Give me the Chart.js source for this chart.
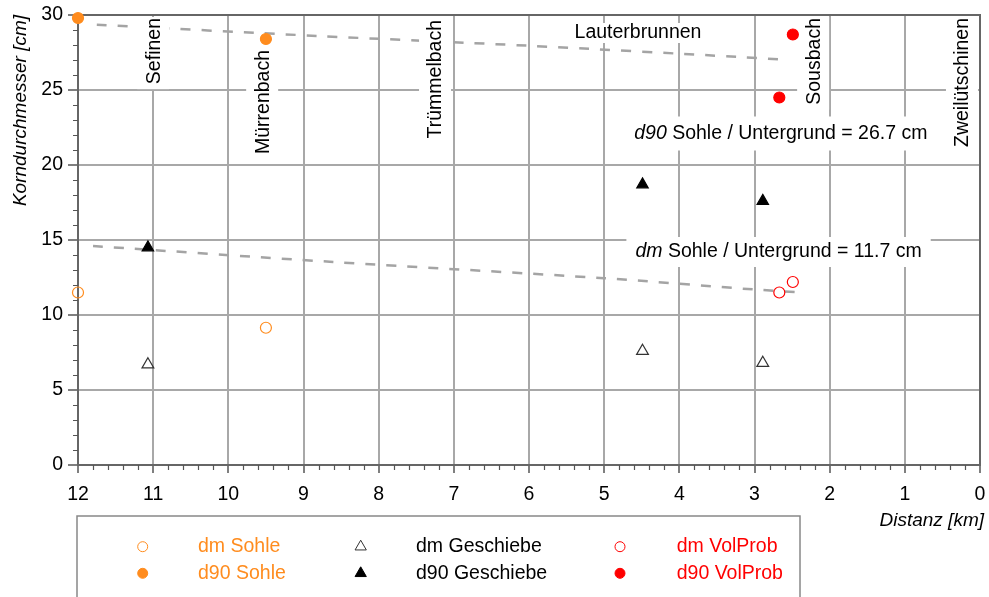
<!DOCTYPE html>
<html>
<head>
<meta charset="utf-8">
<script src="https://cdn.jsdelivr.net/npm/chart.js@4.4.0/dist/chart.umd.min.js"></script>
<style>
  html, body { margin: 0; padding: 0; background: #fff; }
  #wrap { width: 989px; height: 597px; position: relative; }
</style>
</head>
<body>
<div id="wrap"><canvas id="c" width="989" height="597"></canvas></div>
<script>
// Distance along the valley [km] and grain diameters [cm]
const dmSohleX = [12.0, 9.5];
const dmSohleY = [11.5, 9.15];
const d90SohleX = [12.0, 9.5];
const d90SohleY = [29.8, 28.4];
const dmGeschiebeX = [11.07, 4.49, 2.89];
const dmGeschiebeY = [6.7, 7.6, 6.8];
const d90GeschiebeX = [11.07, 4.49, 2.89];
const d90GeschiebeY = [14.5, 18.7, 17.6];
const dmVolProbX = [2.67, 2.49];
const dmVolProbY = [11.5, 12.2];
const d90VolProbX = [2.49, 2.67];
const d90VolProbY = [28.7, 24.5];

// Trend of the subsurface grain size along the reach
const d90TrendX = [11.75, 8.8, 6.0, 3.2, 2.55];
const d90TrendY = [29.35, 28.6, 27.95, 27.2, 27.0];
const dmTrendX = [11.8, 8.65, 5.0, 3.0, 2.35];
const dmTrendY = [14.6, 13.55, 12.45, 11.7, 11.5];

// Tributaries and their position [km]
const stationNames = ['Sefinen', 'Mürrenbach', 'Trümmelbach', 'Lauterbrunnen', 'Sousbach', 'Zweilütschinen'];
const stationKm = [11.0, 9.55, 7.25, 4.55, 2.22, 0.24];

// Subsurface summary values [cm]
const d90Untergrund = 26.7;
const dmUntergrund = 11.7;

// Axis ticks
const xTickValues = [12, 11, 10, 9, 8, 7, 6, 5, 4, 3, 2, 1, 0];
const yTickValues = [0, 5, 10, 15, 20, 25, 30];

const ORANGE = '#ff8c1e';
const RED = '#ff0000';
const BLACK = '#000000';
const FONT = '"Liberation Sans", Arial, Helvetica, sans-serif';

const pts = (xs, ys) => xs.map((x, i) => ({ x: x, y: ys[i] }));

// Tributary label layout: rotated or horizontal, value at the top end of the text
const stationLayout = [
  { rot: true, top: 29.8 },
  { rot: true, top: 27.67 },
  { rot: true, top: 29.67 },
  { rot: false, mid: 28.8 },
  { rot: true, top: 29.8 },
  { rot: true, top: 29.8 }
];

function textBox(ctx, parts, size) {
  let w = 0;
  parts.forEach(p => {
    ctx.font = (p.italic ? 'italic ' : '') + size + 'px ' + FONT;
    w += ctx.measureText(p.t).width;
  });
  return w;
}

function drawRich(ctx, parts, cx, cy, size, padX, halfH) {
  const w = textBox(ctx, parts, size);
  ctx.fillStyle = '#fff';
  ctx.fillRect(cx - w / 2 - padX, cy - halfH, w + 2 * padX, 2 * halfH);
  let x = cx - w / 2;
  ctx.textBaseline = 'middle';
  ctx.textAlign = 'left';
  ctx.fillStyle = '#000';
  parts.forEach(p => {
    ctx.font = (p.italic ? 'italic ' : '') + size + 'px ' + FONT;
    ctx.fillText(p.t, x, cy);
    x += ctx.measureText(p.t).width;
  });
}

// Labels sit above the trend lines but below the measured points
function drawLabels(chart) {
  const { ctx, scales: { x, y } } = chart;
  ctx.save();
  const size = 19.5;
  ctx.font = size + 'px ' + FONT;
  stationNames.forEach((name, i) => {
    const L = stationLayout[i];
    const px = x.getPixelForValue(stationKm[i]);
    const w = ctx.measureText(name).width;
    if (L.rot) {
      const top = y.getPixelForValue(L.top);
      ctx.save();
      ctx.translate(px, top);
      ctx.rotate(-Math.PI / 2);
      ctx.fillStyle = '#fff';
      ctx.fillRect(-w - 5, -16, w + 6, 32);
      ctx.fillStyle = '#000';
      ctx.textAlign = 'right';
      ctx.textBaseline = 'middle';
      ctx.fillText(name, 0, 1);
      ctx.restore();
    } else {
      const mid = y.getPixelForValue(L.mid);
      ctx.fillStyle = '#fff';
      ctx.fillRect(px - w / 2 - 3, mid - 10, w + 6, 20);
      ctx.fillStyle = '#000';
      ctx.textAlign = 'center';
      ctx.textBaseline = 'middle';
      ctx.fillText(name, px, mid);
    }
  });
  // summary annotations of the subsurface
  drawRich(ctx, [{ t: 'd90', italic: true }, { t: ' Sohle / Untergrund = ' + d90Untergrund.toFixed(1) + ' cm' }],
    x.getPixelForValue(2.65), y.getPixelForValue(22.1), size, 9, 17);
  drawRich(ctx, [{ t: 'dm', italic: true }, { t: ' Sohle / Untergrund = ' + dmUntergrund.toFixed(1) + ' cm' }],
    x.getPixelForValue(2.68), y.getPixelForValue(14.2), size, 9, 15);
  ctx.restore();
}

let labelsDone = false;

const decorations = {
  id: 'decorations',
  beforeDatasetsDraw(chart) {
    labelsDone = false;
    const { ctx, chartArea: a, scales: { x, y } } = chart;
    ctx.save();
    // minor tick marks
    ctx.strokeStyle = '#555';
    ctx.lineWidth = 1.2;
    ctx.beginPath();
    for (let i = 0; i <= 60; i++) {
      if (i % 5 === 0) continue;
      const px = Math.round(x.getPixelForValue(i / 5)) + 0.5;
      ctx.moveTo(px, a.bottom);
      ctx.lineTo(px, a.bottom + 5);
    }
    for (let i = 0; i <= 30; i++) {
      if (i % 5 === 0) continue;
      const py = Math.round(y.getPixelForValue(i)) + 0.5;
      ctx.moveTo(a.left, py);
      ctx.lineTo(a.left - 5, py);
    }
    ctx.stroke();
    // frame on top and right
    ctx.strokeStyle = '#666';
    ctx.lineWidth = 2;
    ctx.beginPath();
    ctx.moveTo(a.left, a.top);
    ctx.lineTo(a.right, a.top);
    ctx.lineTo(a.right, a.bottom);
    ctx.stroke();
    ctx.restore();
  },
  beforeDatasetDraw(chart, args) {
    const ds = chart.data.datasets[args.index];
    if (!labelsDone && ds.inLegend) {
      labelsDone = true;
      drawLabels(chart);
    }
  },
  afterDraw(chart) {
    const { ctx, chartArea: a } = chart;
    ctx.save();
    // axis titles
    ctx.fillStyle = '#000';
    ctx.font = 'italic 19px ' + FONT;
    ctx.save();
    ctx.translate(21, a.top);
    ctx.rotate(-Math.PI / 2);
    ctx.textAlign = 'right';
    ctx.textBaseline = 'middle';
    ctx.fillText('Korndurchmesser [cm]', 0, 0);
    ctx.restore();
    ctx.font = 'italic 19px ' + FONT;
    ctx.textAlign = 'right';
    ctx.textBaseline = 'middle';
    ctx.fillText('Distanz [km]', 984, 521);

    // legend box
    ctx.strokeStyle = '#888';
    ctx.lineWidth = 1.5;
    ctx.strokeRect(77, 516, 723, 100);
    const colMarker = [142.7, 360.7, 620];
    const colText = [198, 416, 676.7];
    const rowY = [546.7, 573.3];
    const items = chart.data.datasets.filter(d => d.inLegend);
    items.forEach((d, k) => {
      const col = Math.floor(k / 2), row = k % 2;
      const mx = colMarker[col], my = rowY[row];
      ctx.lineWidth = 1;
      ctx.strokeStyle = d.borderColor;
      ctx.fillStyle = d.backgroundColor;
      ctx.beginPath();
      if (d.pointStyle === 'triangle') {
        const r = 6.5;
        ctx.moveTo(mx, my - r);
        ctx.lineTo(mx + r * 0.866, my + r / 2);
        ctx.lineTo(mx - r * 0.866, my + r / 2);
        ctx.closePath();
      } else {
        ctx.arc(mx, my, 5, 0, Math.PI * 2);
      }
      ctx.fill();
      ctx.stroke();
      ctx.font = '19.5px ' + FONT;
      ctx.textAlign = 'left';
      ctx.textBaseline = 'middle';
      ctx.fillStyle = d.textColor;
      ctx.fillText(d.label, colText[col], my);
    });
    ctx.restore();
  }
};

const NONE = 'rgba(0,0,0,0)';
const pointSet = (label, xs, ys, style, stroke, fill, textColor, radius) => ({
  label: label,
  data: pts(xs, ys),
  pointStyle: style,
  pointRadius: radius,
  pointHoverRadius: radius,
  borderColor: stroke,
  backgroundColor: fill,
  borderWidth: 1.2,
  showLine: false,
  clip: false,
  order: 1,
  inLegend: true,
  textColor: textColor
});

const trendSet = (label, xs, ys) => ({
  label: label,
  data: pts(xs, ys),
  showLine: true,
  borderColor: '#a4a4a4',
  borderWidth: 2.5,
  borderDash: [10, 11],
  pointRadius: 0,
  tension: 0.3,
  fill: false,
  order: 5,
  inLegend: false
});

new Chart(document.getElementById('c'), {
  type: 'scatter',
  data: {
    datasets: [
      pointSet('dm Sohle', dmSohleX, dmSohleY, 'circle', ORANGE, NONE, ORANGE, 5.5),
      pointSet('d90 Sohle', d90SohleX, d90SohleY, 'circle', ORANGE, ORANGE, ORANGE, 5.5),
      pointSet('dm Geschiebe', dmGeschiebeX, dmGeschiebeY, 'triangle', '#333', NONE, BLACK, 6.8),
      pointSet('d90 Geschiebe', d90GeschiebeX, d90GeschiebeY, 'triangle', BLACK, BLACK, BLACK, 6.6),
      pointSet('dm VolProb', dmVolProbX, dmVolProbY, 'circle', RED, NONE, RED, 5.5),
      pointSet('d90 VolProb', d90VolProbX, d90VolProbY, 'circle', RED, RED, RED, 5.5),
      trendSet('d90 Untergrund', d90TrendX, d90TrendY),
      trendSet('dm Untergrund', dmTrendX, dmTrendY)
    ]
  },
  options: {
    responsive: false,
    animation: false,
    events: [],
    layout: { padding: { top: 15, right: 9, left: 0, bottom: 0 } },
    plugins: { legend: { display: false }, tooltip: { enabled: false } },
    scales: {
      x: {
        type: 'linear',
        reverse: true,
        min: 0,
        max: 12,
        afterBuildTicks: s => { s.ticks = xTickValues.map(v => ({ value: v })); },
        afterFit: s => { s.height = 132; s.paddingLeft = 0; s.paddingRight = 0; },
        ticks: { font: { family: FONT, size: 19.5 }, color: '#000', padding: 10, maxRotation: 0, autoSkip: false },
        grid: { color: '#a8a8a8', lineWidth: 2, tickLength: 8, tickColor: '#555', tickWidth: 1.5 },
        border: { color: '#666', width: 2 }
      },
      y: {
        type: 'linear',
        min: 0,
        max: 30,
        afterBuildTicks: s => { s.ticks = yTickValues.map(v => ({ value: v })); },
        afterFit: s => { s.width = 78; s.paddingTop = 0; s.paddingBottom = 0; },
        ticks: { font: { family: FONT, size: 19.5 }, color: '#000', padding: 5 },
        grid: { color: '#a8a8a8', lineWidth: 2, tickLength: 10, tickColor: '#555', tickWidth: 1.5 },
        border: { color: '#666', width: 2 }
      }
    }
  },
  plugins: [decorations]
});
</script>
</body>
</html>
